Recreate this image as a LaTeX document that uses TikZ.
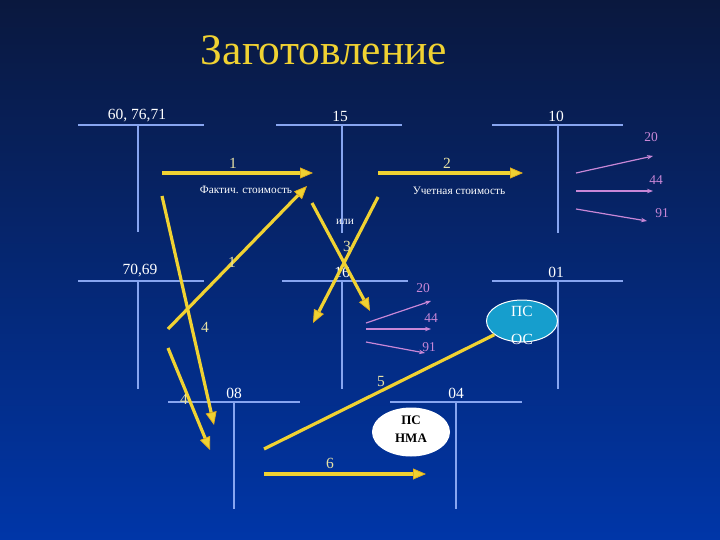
\documentclass[tikz,border=0pt]{standalone}
\usepackage{fontspec}
\setmainfont{Liberation Serif}
\usetikzlibrary{arrows.meta,shapes.geometric}
\definecolor{acc}{RGB}{135,165,240}
\definecolor{ylw}{RGB}{240,210,50}
\definecolor{ytip}{RGB}{225,175,30}
\definecolor{pale}{RGB}{232,226,165}
\definecolor{pnk}{RGB}{200,135,215}
\definecolor{bgtop}{RGB}{10,24,62}
\definecolor{bgmid}{RGB}{0,46,150}
\definecolor{bgbot}{RGB}{0,54,168}
\definecolor{oval}{RGB}{22,158,205}
\tikzset{
  accline/.style={draw=acc, line width=1.8pt},
  acclbl/.style={text=white, font=\fontsize{15.5}{17}\selectfont, inner sep=0pt},
  numlbl/.style={text=pale, font=\fontsize{15.5}{17}\selectfont, inner sep=0pt},
  smalllbl/.style={text=white, font=\fontsize{11.3}{13}\selectfont, inner sep=0pt},
  pinklbl/.style={text=pnk, font=\fontsize{13.5}{15}\selectfont, inner sep=0pt},
  yarrow/.style={draw=ylw, line width=3.2pt, -{Triangle[length=13pt,width=11pt,fill=ylw,color=ytip,line width=0.8pt]}},
  yline/.style={draw=ylw, line width=3.2pt},
  parrow/.style={draw=pnk, line width=1.2pt, -{Stealth[length=6pt,width=4.5pt]}},
}
\begin{document}
\begin{tikzpicture}[x=1pt,y=-1pt]
\useasboundingbox (0,0) rectangle (720,540);
\shade[top color=bgtop, middle color=bgmid, bottom color=bgbot] (0,0) rectangle (720,540);

% title
\node[text=ylw, font=\fontsize{43.5}{47}\selectfont, inner sep=0pt] (title) at (324,50) {Заготовление};

% accounts
\node[acclbl] (l6076) at (137,116) {60, 76,71};
\draw[accline] (78,125) -- (204,125); \draw[accline] (138,125) -- (138,232);
\node[acclbl] (l15) at (340,116) {15};
\draw[accline] (276,125) -- (402,125); \draw[accline] (342,125) -- (342,233);
\node[acclbl] (l10) at (556,116) {10};
\draw[accline] (492,125) -- (623,125); \draw[accline] (558,125) -- (558,233);
\node[acclbl] (l7069) at (140,271) {70,69};
\draw[accline] (78,281) -- (204,281); \draw[accline] (138,281) -- (138,389);
\node[acclbl] (l16) at (342,272) {16};
\draw[accline] (282,281) -- (408,281); \draw[accline] (342,281) -- (342,389);
\node[acclbl] (l01) at (556,272) {01};
\draw[accline] (492,281) -- (623,281); \draw[accline] (558,281) -- (558,389);
\node[acclbl] (l08) at (234,393) {08};
\draw[accline] (168,402) -- (300,402); \draw[accline] (234,402) -- (234,509);
\node[acclbl] (l04) at (456,393) {04};
\draw[accline] (390,402) -- (522,402); \draw[accline] (456,402) -- (456,509);

% ovals
\node[ellipse, draw=white, line width=1pt, fill=oval, minimum width=71pt, minimum height=42pt, inner sep=0pt] (psos) at (522,321) {};
\node[acclbl] (psos1) at (522,311) {ПС};
\node[acclbl] (psos2) at (522,339) {ОС};
\node[ellipse, fill=white, minimum width=78pt, minimum height=49pt, inner sep=0pt] (psnma) at (411,432) {};
\node[text=black, font=\bfseries\fontsize{13}{15}\selectfont, inner sep=0pt] (psnma1) at (411,420) {ПС};
\node[text=black, font=\bfseries\fontsize{13}{15}\selectfont, inner sep=0pt] (psnma2) at (411,438) {НМА};

% arrow 1
\coordinate (a1s) at (162,173); \coordinate (a1e) at (313,173);
\draw[yarrow] (a1s) -- (a1e);
\node[numlbl] (n1) at (233,163) {1};
\node[smalllbl] (fakt) at (246,190) {Фактич. стоимость};
% arrow 2
\coordinate (a2s) at (378,173); \coordinate (a2e) at (523,173);
\draw[yarrow] (a2s) -- (a2e);
\node[numlbl] (n2) at (447,163) {2};
\node[smalllbl] (uchet) at (459,191) {Учетная стоимость};
% pink from 10
\coordinate (p1s) at (576,173); \coordinate (p1e) at (653,156);
\coordinate (p2s) at (576,191); \coordinate (p2e) at (653,191);
\coordinate (p3s) at (576,209); \coordinate (p3e) at (647,221);
\draw[parrow] (p1s) -- (p1e); \draw[parrow] (p2s) -- (p2e); \draw[parrow] (p3s) -- (p3e);
\node[pinklbl] (t20a) at (651,137) {20};
\node[pinklbl] (t44a) at (656,180) {44};
\node[pinklbl] (t91a) at (662,213) {91};
% diagonal 1
\coordinate (d1s) at (168,329); \coordinate (d1e) at (307,186);
\draw[yarrow] (d1s) -- (d1e);
\node[numlbl] (n1b) at (232,262) {1};
% long 4
\coordinate (d4s) at (162,196); \coordinate (d4e) at (214,425);
\draw[yarrow] (d4s) -- (d4e);
\node[numlbl] (n4a) at (205,327) {4};
% short 4
\coordinate (e4s) at (168,348); \coordinate (e4e) at (210,450);
\draw[yarrow] (e4s) -- (e4e);
\node[numlbl] (n4b) at (184,399) {4};
% arrows 3
\coordinate (c3s) at (312,203); \coordinate (c3e) at (370,311);
\draw[yarrow] (c3s) -- (c3e);
\coordinate (b3s) at (378,197); \coordinate (b3e) at (313,323);
\draw[yarrow] (b3s) -- (b3e);
\node[numlbl] (n3) at (347,246) {3};
\node[smalllbl] (ili) at (345,222) {или};
% pink from 16
\coordinate (q1s) at (366,323); \coordinate (q1e) at (431,301);
\coordinate (q2s) at (366,329); \coordinate (q2e) at (431,329);
\coordinate (q3s) at (366,342); \coordinate (q3e) at (425,353);
\draw[parrow] (q1s) -- (q1e); \draw[parrow] (q2s) -- (q2e); \draw[parrow] (q3s) -- (q3e);
\node[pinklbl] (t20b) at (423,288) {20};
\node[pinklbl] (t44b) at (431,318) {44};
\node[pinklbl] (t91b) at (429,347) {91};
% line 5
\coordinate (f5s) at (264,449);
\draw[yline] (f5s) -- (psos);
\node[numlbl] (n5) at (381,381) {5};
% arrow 6
\coordinate (g6s) at (264,474); \coordinate (g6e) at (426,474);
\draw[yarrow] (g6s) -- (g6e);
\node[numlbl] (n6) at (330,463) {6};
\end{tikzpicture}
\end{document}
